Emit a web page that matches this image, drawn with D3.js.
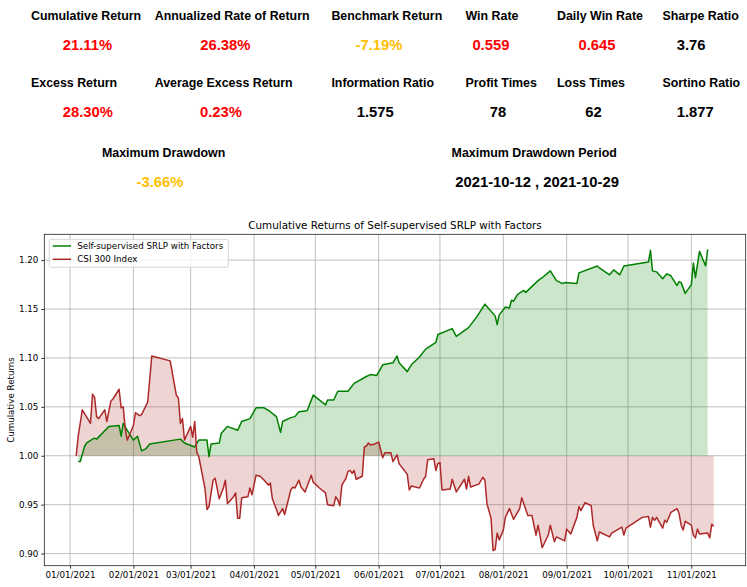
<!DOCTYPE html>
<html>
<head>
<meta charset="utf-8">
<script src="https://cdn.jsdelivr.net/npm/d3@7"></script>
<style>
  html, body { margin: 0; padding: 0; background: #fff; }
  svg { display: block; }
</style>
</head>
<body>
<div id="chart"></div>
<script>
// summary table
var statLabels = [
  ["Cumulative Return", "Annualized Rate of Return", "Benchmark Return", "Win Rate", "Daily Win Rate", "Sharpe Ratio"],
  ["Excess Return", "Average Excess Return", "Information Ratio", "Profit Times", "Loss Times", "Sortino Ratio"],
  ["Maximum Drawdown", "Maximum Drawdown Period"]
];
var statValues = [
  ["21.11%", "26.38%", "-7.19%", "0.559", "0.645", "3.76"],
  ["28.30%", "0.23%", "1.575", "78", "62", "1.877"],
  ["-3.66%", "2021-10-12 , 2021-10-29"]
];
// r = red, y = gold, k = black
var statColors = [
  ["r", "r", "y", "r", "r", "k"],
  ["r", "r", "k", "k", "k", "k"],
  ["y", "k"]
];

// CSI 300 Index cumulative returns
var csiDates = ["2021-01-04","2021-01-05","2021-01-07","2021-01-11","2021-01-12","2021-01-13","2021-01-14","2021-01-15",
  "2021-01-18","2021-01-19","2021-01-21","2021-01-22","2021-01-25","2021-01-26","2021-01-27","2021-01-28","2021-01-29",
  "2021-01-30","2021-02-01","2021-02-02","2021-02-04","2021-02-05","2021-02-08","2021-02-10","2021-02-19","2021-02-22",
  "2021-02-23","2021-02-24","2021-02-25","2021-02-26","2021-03-01","2021-03-02","2021-03-03","2021-03-04","2021-03-05",
  "2021-03-08","2021-03-09","2021-03-10","2021-03-12","2021-03-13","2021-03-15","2021-03-17","2021-03-18","2021-03-19",
  "2021-03-22","2021-03-23","2021-03-24","2021-03-25","2021-03-26","2021-03-29","2021-03-30","2021-03-31","2021-04-02",
  "2021-04-04","2021-04-06","2021-04-08","2021-04-09","2021-04-10","2021-04-12","2021-04-13","2021-04-15","2021-04-16",
  "2021-04-19","2021-04-20","2021-04-21","2021-04-23","2021-04-24","2021-04-26","2021-04-29","2021-04-30","2021-05-03",
  "2021-05-06","2021-05-07","2021-05-10","2021-05-11","2021-05-12","2021-05-13","2021-05-14","2021-05-16","2021-05-17",
  "2021-05-18","2021-05-19","2021-05-20","2021-05-21","2021-05-24","2021-05-25","2021-05-26","2021-05-27","2021-05-28",
  "2021-05-30","2021-06-01","2021-06-03","2021-06-04","2021-06-07","2021-06-08","2021-06-10","2021-06-11","2021-06-15",
  "2021-06-16","2021-06-17","2021-06-21","2021-06-23","2021-06-24","2021-06-25","2021-06-28","2021-06-29","2021-06-30",
  "2021-07-01","2021-07-02","2021-07-06","2021-07-07","2021-07-09","2021-07-13","2021-07-14","2021-07-15","2021-07-16",
  "2021-07-20","2021-07-22","2021-07-23","2021-07-24","2021-07-26","2021-07-27","2021-07-28","2021-07-29","2021-07-30",
  "2021-08-01","2021-08-02","2021-08-04","2021-08-06","2021-08-09","2021-08-10","2021-08-13","2021-08-15","2021-08-17",
  "2021-08-18","2021-08-20","2021-08-23","2021-08-24","2021-08-26","2021-08-27","2021-08-31","2021-09-01","2021-09-03",
  "2021-09-06","2021-09-07","2021-09-08","2021-09-10","2021-09-13","2021-09-14","2021-09-16","2021-09-17","2021-09-22",
  "2021-09-23","2021-09-28","2021-09-29","2021-09-30","2021-10-08","2021-10-11","2021-10-12","2021-10-13","2021-10-14",
  "2021-10-15","2021-10-18","2021-10-19","2021-10-20","2021-10-22","2021-10-25","2021-10-26","2021-10-27","2021-10-28",
  "2021-10-29","2021-11-01","2021-11-02","2021-11-03","2021-11-04","2021-11-05","2021-11-09","2021-11-10","2021-11-11",
  "2021-11-12"];
var csiValues = [1.000,1.020,1.047,1.033,1.063,1.060,1.040,1.038,
  1.047,1.035,1.056,1.058,1.068,1.049,1.050,1.028,1.016,
  1.021,1.031,1.044,1.041,1.042,1.055,1.102,1.097,1.062,
  1.059,1.033,1.038,1.016,1.030,1.019,1.035,1.004,0.999,
  0.967,0.945,0.948,0.975,0.977,0.956,0.967,0.975,0.951,
  0.958,0.962,0.936,0.936,0.957,0.958,0.967,0.960,0.980,
  0.979,0.975,0.970,0.972,0.956,0.945,0.939,0.946,0.940,
  0.965,0.968,0.967,0.975,0.968,0.963,0.980,0.973,0.967,
  0.962,0.950,0.949,0.958,0.955,0.949,0.970,0.977,0.984,
  0.985,0.982,0.985,0.976,0.979,1.009,1.010,1.013,1.011,
  1.012,1.014,0.998,1.003,1.003,0.994,1.001,0.992,0.981,
  0.965,0.969,0.967,0.976,0.979,0.996,0.997,0.985,0.992,
  0.993,0.965,0.966,0.976,0.963,0.976,0.966,0.979,0.968,
  0.971,0.978,0.975,0.951,0.936,0.903,0.904,0.921,0.914,
  0.924,0.937,0.946,0.935,0.946,0.957,0.939,0.939,0.919,
  0.929,0.906,0.919,0.929,0.912,0.917,0.913,0.925,0.920,
  0.937,0.948,0.944,0.952,0.949,0.929,0.913,0.922,0.917,
  0.921,0.927,0.919,0.926,0.937,0.938,0.927,0.937,0.934,
  0.937,0.926,0.934,0.932,0.942,0.946,0.941,0.929,0.924,
  0.933,0.929,0.919,0.916,0.925,0.920,0.921,0.916,0.930,
  0.928];

// Self-supervised SRLP with Factors cumulative returns
var srlpDates = ["2021-01-05","2021-01-06","2021-01-08","2021-01-09","2021-01-12","2021-01-13","2021-01-14","2021-01-20",
  "2021-01-25","2021-01-26","2021-01-27","2021-01-29","2021-02-01","2021-02-03","2021-02-05","2021-02-07","2021-02-09",
  "2021-02-24","2021-02-26","2021-03-03","2021-03-05","2021-03-09","2021-03-10","2021-03-11","2021-03-15","2021-03-16",
  "2021-03-19","2021-03-24","2021-03-26","2021-03-30","2021-04-02","2021-04-06","2021-04-09","2021-04-12","2021-04-14",
  "2021-04-15","2021-04-19","2021-04-21","2021-04-23","2021-04-27","2021-04-30","2021-05-06","2021-05-07","2021-05-10",
  "2021-05-12","2021-05-17","2021-05-20","2021-05-26","2021-05-28","2021-05-31","2021-06-03","2021-06-08","2021-06-10",
  "2021-06-11","2021-06-15","2021-06-17","2021-06-21","2021-06-24","2021-06-29","2021-06-30","2021-07-07","2021-07-09",
  "2021-07-15","2021-07-19","2021-07-23","2021-07-28","2021-07-29","2021-07-30","2021-08-02","2021-08-04","2021-08-05",
  "2021-08-06","2021-08-08","2021-08-11","2021-08-12","2021-08-18","2021-08-20","2021-08-24","2021-08-27","2021-08-30",
  "2021-08-31","2021-09-06","2021-09-07","2021-09-16","2021-09-17","2021-09-22","2021-09-24","2021-09-27","2021-09-29",
  "2021-10-11","2021-10-12","2021-10-13","2021-10-15","2021-10-18","2021-10-20","2021-10-22","2021-10-25","2021-10-26",
  "2021-10-27","2021-10-29","2021-11-01","2021-11-02","2021-11-03","2021-11-05","2021-11-08","2021-11-09"];
var srlpValues = [0.994,0.994,1.009,1.013,1.017,1.018,1.017,1.030,
  1.031,1.020,1.033,1.026,1.016,1.020,1.005,1.007,1.012,
  1.017,1.013,1.009,1.016,1.016,0.999,1.012,1.013,1.023,
  1.030,1.026,1.035,1.038,1.049,1.049,1.045,1.040,1.024,
  1.035,1.039,1.040,1.045,1.046,1.062,1.052,1.057,1.057,
  1.066,1.066,1.074,1.081,1.083,1.082,1.093,1.095,1.102,
  1.095,1.086,1.093,1.101,1.109,1.116,1.124,1.130,1.122,
  1.131,1.142,1.155,1.143,1.134,1.144,1.152,1.151,1.159,
  1.158,1.165,1.169,1.167,1.179,1.182,1.189,1.179,1.176,
  1.177,1.176,1.187,1.194,1.192,1.185,1.190,1.185,1.194,
  1.198,1.210,1.189,1.188,1.181,1.186,1.184,1.174,1.178,
  1.177,1.166,1.175,1.197,1.182,1.209,1.194,1.211];

var seriesNames = ["Self-supervised SRLP with Factors", "CSI 300 Index"];
var yTicks = [0.90, 0.95, 1.00, 1.05, 1.10, 1.15, 1.20];
var chartTitle = "Cumulative Returns of Self-supervised SRLP with Factors";
var yLabel = "Cumulative Returns";

var W = 747, H = 587;
var colours = { r: "#ff0000", y: "#ffc000", k: "#000000" };
var green = "#008000", brown = "#ad2828";

var svg = d3.select("#chart").append("svg")
    .attr("width", W)
    .attr("height", H);

// ---- the stats block on top ----
var labelX = [[31, 154.7, 331.4, 465.5, 557, 662.4], [31, 154.7, 331.4, 465.5, 557, 662.4], [102, 451.6]];
var valueX = [[87.4, 225.3, 379, 490.9, 597, 691.1], [87.9, 221, 375.2, 498.1, 593.6, 695.2], [160, 537.1]];
var labelY = [20, 86.7, 157];
var valueY = [50, 117, 187];

var stats = svg.append("g")
    .attr("font-family", "'Liberation Sans', Arial, sans-serif")
    .attr("font-weight", "bold");

statLabels.forEach((row, r) => {
    stats.selectAll(null).data(row).enter().append("text")
        .attr("x", (d, i) => labelX[r][i])
        .attr("y", labelY[r])
        .attr("font-size", 12.4)
        .attr("fill", "#000")
        .text(d => d);
    stats.selectAll(null).data(statValues[r]).enter().append("text")
        .attr("x", (d, i) => valueX[r][i])
        .attr("y", valueY[r])
        .attr("text-anchor", "middle")
        .attr("font-size", 14.8)
        .attr("fill", (d, i) => colours[statColors[r][i]])
        .text(d => d);
});

// ---- the matplotlib-like chart ----
var pLeft = 44.3, pRight = 745.7, pTop = 234.3, pBottom = 565.7;
var parse = d3.timeParse("%Y-%m-%d");

var csi = csiDates.map((d, i) => ({ date: parse(d), value: csiValues[i] }));
var srlp = srlpDates.map((d, i) => ({ date: parse(d), value: srlpValues[i] }));
var all = csi.concat(srlp);

var tExt = d3.extent(all, d => d.date);
var tPad = (tExt[1] - tExt[0]) * 0.05;
var x = d3.scaleTime()
    .domain([new Date(+tExt[0] - tPad), new Date(+tExt[1] + tPad)])
    .range([pLeft, pRight]);

var vExt = d3.extent(all, d => d.value);
var vPad = (vExt[1] - vExt[0]) * 0.05;
var y = d3.scaleLinear()
    .domain([vExt[0] - vPad, vExt[1] + vPad])
    .range([pBottom, pTop]);

var chart = svg.append("g").attr("font-family", "'DejaVu Sans', sans-serif");

svg.append("clipPath").attr("id", "plot-clip")
  .append("rect").attr("x", pLeft).attr("y", pTop).attr("width", pRight - pLeft).attr("height", pBottom - pTop);

var monthTicks = d3.timeMonth.range(new Date(2021, 0, 1), new Date(2021, 10, 2));

// grid
var grid = chart.append("g").attr("stroke", "#b0b0b0").attr("stroke-width", 0.8);
grid.selectAll(null).data(monthTicks).enter().append("line")
    .attr("x1", d => x(d)).attr("x2", d => x(d))
    .attr("y1", pTop).attr("y2", pBottom);
grid.selectAll(null).data(yTicks).enter().append("line")
    .attr("x1", pLeft).attr("x2", pRight)
    .attr("y1", d => y(d)).attr("y2", d => y(d));

var plot = chart.append("g").attr("clip-path", "url(#plot-clip)");

var area = d3.area()
    .x(d => x(d.date))
    .y0(y(1))
    .y1(d => y(d.value));
var line = d3.line()
    .x(d => x(d.date))
    .y(d => y(d.value));

plot.append("path").datum(srlp).attr("d", area)
    .attr("fill", green).attr("fill-opacity", 0.2);
plot.append("path").datum(csi).attr("d", area)
    .attr("fill", brown).attr("fill-opacity", 0.2);
plot.append("path").datum(srlp).attr("d", line)
    .attr("fill", "none").attr("stroke", green).attr("stroke-width", 1.5).attr("stroke-linejoin", "round");
plot.append("path").datum(csi).attr("d", line)
    .attr("fill", "none").attr("stroke", brown).attr("stroke-width", 1.5).attr("stroke-linejoin", "round");

// axes
var xAxis = d3.axisBottom(x)
    .tickValues(monthTicks)
    .tickFormat(d3.timeFormat("%m/%d/%Y"))
    .tickSize(3)
    .tickPadding(3);
var yAxis = d3.axisLeft(y)
    .tickValues(yTicks)
    .tickFormat(d3.format(".2f"))
    .tickSize(3)
    .tickPadding(3);

var gx = chart.append("g").attr("transform", "translate(0," + pBottom + ")").call(xAxis);
var gy = chart.append("g").attr("transform", "translate(" + pLeft + ",0)").call(yAxis);
[gx, gy].forEach(g => {
    g.select(".domain").remove();
    g.selectAll("text").attr("font-size", 8.7).attr("font-family", "'DejaVu Sans', sans-serif").attr("fill", "#000");
    g.selectAll(".tick line").attr("stroke", "#000").attr("stroke-width", 0.8);
});

// frame
chart.append("rect")
    .attr("x", pLeft).attr("y", pTop)
    .attr("width", pRight - pLeft).attr("height", pBottom - pTop)
    .attr("fill", "none").attr("stroke", "#222").attr("stroke-width", 0.8);

// title and y label
chart.append("text")
    .attr("x", (pLeft + pRight) / 2).attr("y", pTop - 5)
    .attr("text-anchor", "middle")
    .attr("font-size", 10.4)
    .text(chartTitle);

chart.append("text")
    .attr("transform", "translate(14," + ((pTop + pBottom) / 2) + ") rotate(-90)")
    .attr("text-anchor", "middle")
    .attr("font-size", 8.7)
    .text(yLabel);

// legend
var legend = chart.append("g");
legend.append("rect")
    .attr("x", 49.3).attr("y", 239.3)
    .attr("width", 179).attr("height", 28)
    .attr("rx", 2)
    .attr("fill", "#fff").attr("fill-opacity", 0.8)
    .attr("stroke", "#cccccc").attr("stroke-width", 0.8);
var legendColors = [green, brown];
var items = legend.selectAll(null).data(seriesNames).enter().append("g")
    .attr("transform", (d, i) => "translate(0," + (246 + i * 13.3) + ")");
items.append("line")
    .attr("x1", 52.7).attr("x2", 71)
    .attr("stroke", (d, i) => legendColors[i]).attr("stroke-width", 1.5);
items.append("text")
    .attr("x", 77.3).attr("dy", "0.32em")
    .attr("font-size", 8.7)
    .text(d => d);
</script>
</body>
</html>
